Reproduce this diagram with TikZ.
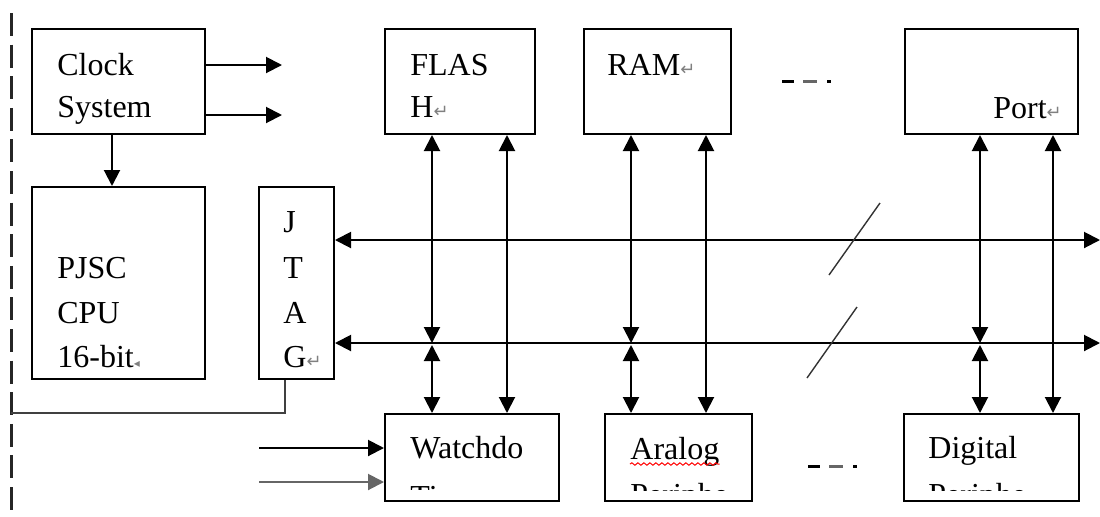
\documentclass[tikz,border=0pt]{standalone}
\usepackage{fontspec}
\setmainfont{Liberation Serif}
\newfontfamily\symfont{DejaVu Sans}
\usepackage{tikz}
\usetikzlibrary{arrows.meta}
\usetikzlibrary{decorations.pathmorphing}

\newcommand{\ret}{{\symfont\color{gray}\fontsize{9pt}{9pt}\selectfont ↵}}
\newcommand{\retsmall}{{\symfont\color{gray}\fontsize{6pt}{6pt}\selectfont ◂}}

\tikzset{
  blk/.style={draw, line width=1pt, inner sep=0pt},
  lbl/.style={anchor=base west, inner sep=0pt, font=\fontsize{16pt}{19pt}\selectfont},
  arr/.style={-{Triangle[length=8pt,width=8pt]}, line width=1pt},
  bi/.style={{Triangle[length=8pt,width=8pt]}-{Triangle[length=8pt,width=8pt]}, line width=1pt},
  slash/.style={line width=0.7pt, black!80},
  dots/.style={line width=1.5pt}
}

\begin{document}
\begin{tikzpicture}[x=0.5pt, y=-0.5pt]
\useasboundingbox (0,0) rectangle (1100,516);
% boundary
\draw[dash pattern=on 11.5pt off 4.3pt, line width=1.5pt, black!85] (11,13) -- (11,516);
% top row
\node[blk, minimum width=86.5pt, minimum height=52.5pt] (clock) at (118.5,81.5) {};
\node[blk, minimum width=75pt, minimum height=52.5pt] (flash) at (460,81.5) {};
\node[blk, minimum width=73.5pt, minimum height=52.5pt] (ram) at (657.5,81.5) {};
\node[blk, minimum width=86.5pt, minimum height=52.5pt] (port) at (991.5,81.5) {};
% cpu and jtag
\node[blk, minimum width=86.5pt, minimum height=96pt] (cpu) at (118.5,283) {};
\node[blk, minimum width=37.5pt, minimum height=96pt] (jtag) at (296.5,283) {};
% bottom row
\node[blk, minimum width=87pt, minimum height=43.5pt] (wdog) at (472,457.5) {};
\node[blk, minimum width=73.5pt, minimum height=43.5pt] (adc) at (678.5,457.5) {};
\node[blk, minimum width=87.5pt, minimum height=43.5pt] (dio) at (991.5,457.5) {};
% labels
\node[lbl] (clockA) at (57,75) {Clock};
\node[lbl] (clockB) at (57,117) {System};
\node[lbl] (flashA) at (410,75) {FLAS};
\node[lbl] (flashB) at (410,117) {H\ret};
\node[lbl] (ramA) at (607,75) {RAM\ret};
\node[lbl] (portA) at (993,118) {Port\ret};
\node[lbl] (cpuA) at (57,278) {PJSC};
\node[lbl] (cpuB) at (57,323) {CPU};
\node[lbl] (cpuC) at (57,367) {16-bit\retsmall};
\node[lbl] (jtagJ) at (283,232) {J};
\node[lbl] (jtagT) at (283,278) {T};
\node[lbl] (jtagA) at (283,323) {A};
\node[lbl] (jtagG) at (283,367) {G\ret};
\node[lbl] (wdogA) at (410,458) {Watchdo};
\node[lbl] (adcA) at (630,459) {Aralog};
\node[lbl] (dioA) at (928,458) {Digital};
\draw[red, line width=0.5pt, decorate, decoration={snake, amplitude=0.6pt, segment length=3pt}]
  ([yshift=-2.5pt]adcA.base west) -- ([yshift=-2.5pt]adcA.base east);
% cut second lines
\begin{scope}
\clip (wdog.north west) rectangle ([yshift=6.5pt]wdog.south east);
\node[lbl] (wdogB) at (410,507) {Timer};
\end{scope}
\begin{scope}
\clip (adc.north west) rectangle ([yshift=6pt]adc.south east);
\node[lbl] (adcB) at (630,505) {Periphe};
\end{scope}
\begin{scope}
\clip (dio.north west) rectangle ([yshift=6pt]dio.south east);
\node[lbl] (dioB) at (928,505) {Periphe};
\end{scope}
% clock outputs
\coordinate (ck1) at (282,65);
\coordinate (ck2) at (282,115);
\draw[arr] (clock.east |- ck1) -- (ck1);
\draw[arr] (clock.east |- ck2) -- (ck2);
\draw[arr] ([xshift=-3.25pt]clock.south) -- ([xshift=-3.25pt]cpu.north);
% buses
\coordinate (bus1) at (1100,240);
\coordinate (bus2) at (1100,343);
\draw[bi] (jtag.east |- bus1) -- (bus1);
\draw[bi] (jtag.east |- bus2) -- (bus2);
\draw[slash] (880,203) -- (829,275);
\draw[slash] (857,307) -- (807,378);
% columns
\coordinate (c1) at (432,343);
\coordinate (c2) at (507,343);
\coordinate (c3) at (631,343);
\coordinate (c4) at (706,343);
\coordinate (c5) at (980,343);
\coordinate (c6) at (1053,343);
\foreach \ca/\cb/\up/\dn in {c1/c2/flash/wdog, c3/c4/ram/adc, c5/c6/port/dio} {
  \draw[bi] (\up.south -| \ca) -- (\ca);
  \draw[bi] ([yshift=-1pt]\ca) -- (\dn.north -| \ca);
  \draw[bi] (\up.south -| \cb) -- (\dn.north -| \cb);
}
% jtag link
\coordinate (jt) at (11,413);
\draw[line width=1pt, black!75] ([xshift=-5.75pt]jtag.south) |- (jt);
% watchdog inputs
\coordinate (w1) at (259,448);
\coordinate (w2) at (259,482);
\draw[arr] (w1) -- (wdog.west |- w1);
\draw[arr, black!60] (w2) -- (wdog.west |- w2);
% ellipsis marks
\draw[dots] (782,81) -- (794,81);
\draw[dots, black!60] (803,81) -- (817,81);
\draw[dots] (827,81) -- (831,81);
\draw[dots] (808,466) -- (820,466);
\draw[dots, black!60] (829,466) -- (843,466);
\draw[dots] (853,466) -- (857,466);
\end{tikzpicture}
\end{document}
